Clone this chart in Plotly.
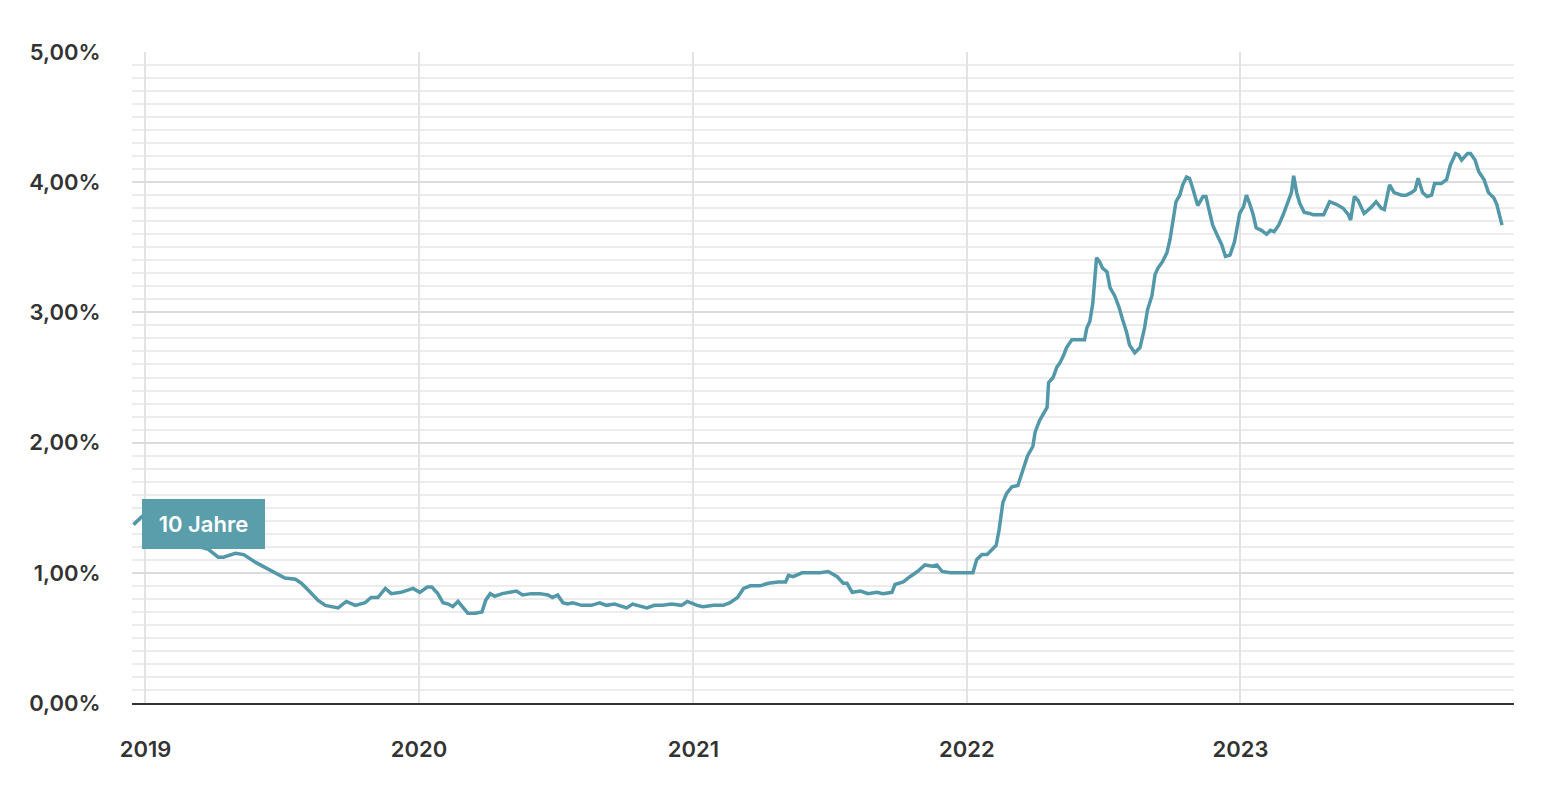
import plotly.graph_objects as go

dates = [
    "2018-12-16", "2018-12-20", "2018-12-27", "2019-01-15", "2019-02-01", "2019-02-15", "2019-03-01",
    "2019-03-26", "2019-04-08", "2019-04-15", "2019-05-01", "2019-05-12", "2019-05-28", "2019-06-10",
    "2019-06-23", "2019-07-06", "2019-07-20", "2019-07-28", "2019-08-09", "2019-08-19", "2019-08-29",
    "2019-09-08", "2019-09-15", "2019-09-26", "2019-10-08", "2019-10-21", "2019-10-29", "2019-11-07",
    "2019-11-17", "2019-11-25", "2019-12-08", "2019-12-24",
    "2020-01-02", "2020-01-12", "2020-01-18", "2020-01-26", "2020-02-02", "2020-02-09", "2020-02-15",
    "2020-02-22", "2020-02-29", "2020-03-06", "2020-03-16", "2020-03-25", "2020-03-30", "2020-04-05",
    "2020-04-11", "2020-04-21", "2020-05-01", "2020-05-10", "2020-05-18", "2020-05-30", "2020-06-10",
    "2020-06-21", "2020-06-27", "2020-07-04", "2020-07-11", "2020-07-17", "2020-07-24", "2020-08-05",
    "2020-08-18", "2020-08-29", "2020-09-07", "2020-09-18", "2020-10-04", "2020-10-12", "2020-10-31",
    "2020-11-10", "2020-11-21", "2020-12-03", "2020-12-16", "2020-12-24",
    "2021-01-06", "2021-01-14", "2021-01-28", "2021-02-10", "2021-02-19", "2021-03-01", "2021-03-09",
    "2021-03-18", "2021-03-31", "2021-04-11", "2021-04-24", "2021-05-04", "2021-05-08", "2021-05-14",
    "2021-05-26", "2021-06-06", "2021-06-19", "2021-06-30", "2021-07-12", "2021-07-20", "2021-07-25",
    "2021-08-01", "2021-08-12", "2021-08-22", "2021-09-03", "2021-09-11", "2021-09-23", "2021-09-27",
    "2021-10-08", "2021-10-17", "2021-10-27", "2021-11-06", "2021-11-16", "2021-11-22", "2021-11-29",
    "2021-12-10", "2021-12-20", "2021-12-30",
    "2022-01-09", "2022-01-14", "2022-01-21", "2022-01-28", "2022-02-03", "2022-02-09", "2022-02-13",
    "2022-02-18", "2022-02-23", "2022-03-02", "2022-03-10", "2022-03-17", "2022-03-23", "2022-03-30",
    "2022-04-02", "2022-04-08", "2022-04-12", "2022-04-18", "2022-04-20", "2022-04-26", "2022-05-01",
    "2022-05-05", "2022-05-10", "2022-05-14", "2022-05-21", "2022-05-29", "2022-06-07", "2022-06-10",
    "2022-06-14", "2022-06-18", "2022-06-21", "2022-06-23", "2022-06-27", "2022-07-01", "2022-07-07",
    "2022-07-11", "2022-07-17", "2022-07-23", "2022-07-28", "2022-08-02", "2022-08-06", "2022-08-13",
    "2022-08-20", "2022-08-26", "2022-08-30", "2022-09-05", "2022-09-09", "2022-09-13", "2022-09-19",
    "2022-09-25", "2022-09-29", "2022-10-03", "2022-10-07", "2022-10-12", "2022-10-16", "2022-10-21",
    "2022-10-25", "2022-10-29", "2022-11-05", "2022-11-12", "2022-11-16", "2022-11-20", "2022-11-25",
    "2022-12-02", "2022-12-07", "2022-12-12", "2022-12-18", "2022-12-24", "2022-12-31",
    "2023-01-05", "2023-01-09", "2023-01-13", "2023-01-18", "2023-01-22", "2023-01-29", "2023-02-05",
    "2023-02-10", "2023-02-15", "2023-02-21", "2023-02-27", "2023-03-06", "2023-03-10", "2023-03-13",
    "2023-03-17", "2023-03-21", "2023-03-27", "2023-04-03", "2023-04-08", "2023-04-16", "2023-04-22",
    "2023-04-30", "2023-05-09", "2023-05-18", "2023-05-25", "2023-05-28", "2023-06-02", "2023-06-07",
    "2023-06-15", "2023-06-25", "2023-07-01", "2023-07-08", "2023-07-12", "2023-07-19", "2023-07-25",
    "2023-08-04", "2023-08-10", "2023-08-17", "2023-08-22", "2023-08-26", "2023-09-01", "2023-09-07",
    "2023-09-13", "2023-09-17", "2023-09-26", "2023-10-03", "2023-10-08", "2023-10-15", "2023-10-19",
    "2023-10-23", "2023-10-31", "2023-11-04", "2023-11-10", "2023-11-15", "2023-11-22", "2023-11-28",
    "2023-12-05", "2023-12-09", "2023-12-12", "2023-12-16",
]

rates = [
    1.37, 1.39, 1.43, 1.40, 1.33, 1.27, 1.22,
    1.18, 1.12, 1.12, 1.15, 1.14, 1.08, 1.04,
    1.00, 0.96, 0.95, 0.92, 0.85, 0.79, 0.75,
    0.74, 0.73, 0.78, 0.75, 0.77, 0.81, 0.81,
    0.88, 0.84, 0.85, 0.88,
    0.85, 0.89, 0.89, 0.84, 0.77, 0.76, 0.74,
    0.78, 0.73, 0.69, 0.69, 0.70, 0.79, 0.84,
    0.82, 0.84, 0.85, 0.86, 0.83, 0.84, 0.84,
    0.83, 0.81, 0.83, 0.77, 0.76, 0.77, 0.75,
    0.75, 0.77, 0.75, 0.76, 0.73, 0.76, 0.73,
    0.75, 0.75, 0.76, 0.75, 0.78,
    0.75, 0.74, 0.75, 0.75, 0.77, 0.81, 0.88,
    0.90, 0.90, 0.92, 0.93, 0.93, 0.98, 0.97,
    1.00, 1.00, 1.00, 1.01, 0.97, 0.92, 0.92,
    0.85, 0.86, 0.84, 0.85, 0.84, 0.85, 0.91,
    0.93, 0.97, 1.01, 1.06, 1.05, 1.06, 1.01,
    1.00, 1.00, 1.00,
    1.00, 1.10, 1.14, 1.14, 1.18, 1.21, 1.33,
    1.54, 1.61, 1.66, 1.67, 1.79, 1.90, 1.97,
    2.08, 2.17, 2.21, 2.27, 2.46, 2.50, 2.58,
    2.61, 2.67, 2.73, 2.79, 2.79, 2.79, 2.88,
    2.93, 3.07, 3.27, 3.42, 3.39, 3.34, 3.31,
    3.19, 3.13, 3.04, 2.94, 2.85, 2.75, 2.69,
    2.73, 2.88, 3.02, 3.13, 3.29, 3.34, 3.39,
    3.46, 3.56, 3.69, 3.85, 3.90, 3.98, 4.04,
    4.03, 3.96, 3.82, 3.89, 3.89, 3.79, 3.67,
    3.58, 3.52, 3.43, 3.44, 3.54, 3.76,
    3.81, 3.90, 3.84, 3.75, 3.65, 3.63, 3.60,
    3.63, 3.62, 3.67, 3.75, 3.86, 3.92, 4.05,
    3.92, 3.84, 3.77, 3.76, 3.75, 3.75, 3.75,
    3.85, 3.83, 3.80, 3.75, 3.71, 3.89, 3.86,
    3.76, 3.81, 3.85, 3.80, 3.79, 3.98, 3.92,
    3.90, 3.90, 3.92, 3.94, 4.03, 3.92, 3.89,
    3.90, 3.99, 3.99, 4.02, 4.13, 4.22, 4.21,
    4.17, 4.22, 4.22, 4.17, 4.08, 4.02, 3.92,
    3.88, 3.83, 3.75, 3.67,
]

y_tickvals = [0, 1, 2, 3, 4, 5]
y_ticktext = ["0,00%", "1,00%", "2,00%", "3,00%", "4,00%", "5,00%"]
x_tickvals = ["2019-01-01", "2020-01-01", "2021-01-01", "2022-01-01", "2023-01-01"]
x_ticktext = ["2019", "2020", "2021", "2022", "2023"]
series_label = "10 Jahre"

LINE = "#5298a8"
FONT = "Inter, Lato, sans-serif"

fig = go.Figure()
fig.add_trace(go.Scatter(
    x=dates, y=rates, mode="lines",
    line=dict(color=LINE, width=3.5),
    hoverinfo="skip", showlegend=False,
))

fig.update_layout(
    width=1535, height=770,
    margin=dict(l=124, r=29, t=44, b=75),
    paper_bgcolor="white", plot_bgcolor="white",
    font=dict(family=FONT, size=22, color="#333333"),
    showlegend=False,
)

fig.update_yaxes(
    range=[0, 5], tickvals=y_tickvals, ticktext=y_ticktext,
    showgrid=True, gridcolor="#dcdcdc", gridwidth=2,
    zeroline=False, showline=False,
    ticks="outside", ticklen=26, tickcolor="rgba(0,0,0,0)",
    tickfont=dict(family=FONT, size=22, color="#333333", weight=600),
    minor=dict(dtick=0.1, showgrid=True, gridcolor="#ececec", gridwidth=1.5, ticks=""),
)

fig.update_xaxes(
    type="date", range=["2018-12-14", "2024-01-01"],
    tickvals=x_tickvals, ticktext=x_ticktext,
    showgrid=True, gridcolor="#e3e3e3", gridwidth=2,
    zeroline=False, showline=True, linecolor="#333333", linewidth=2,
    ticks="outside", ticklen=26, tickcolor="rgba(0,0,0,0)",
    tickfont=dict(family=FONT, size=22, color="#333333", weight=600),
)

fig.add_annotation(
    xref="paper", yref="y", x=0.0072, y=1.375,
    xanchor="left", yanchor="middle",
    text=series_label, showarrow=False,
    font=dict(family=FONT, size=22, color="white", weight=600),
    bgcolor="#5a9eac", borderwidth=0, borderpad=0,
    width=123, height=50, align="center",
)

fig.write_html("out.html")
